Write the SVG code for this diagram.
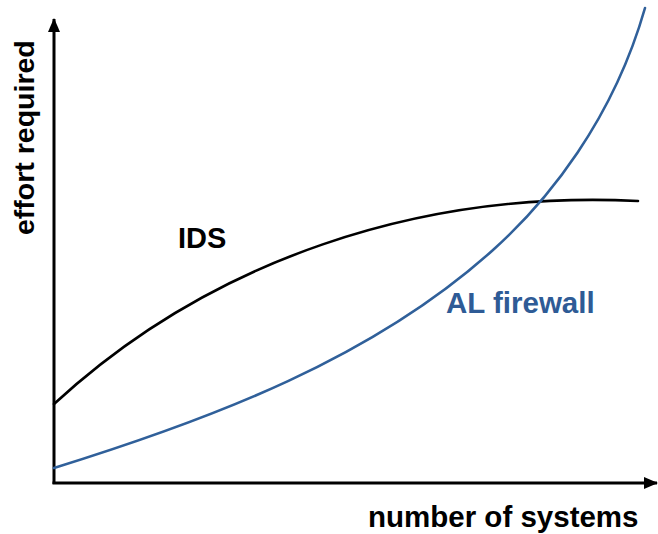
<svg xmlns="http://www.w3.org/2000/svg" width="658" height="534" viewBox="0 0 658 534">
  <defs>
    <style>
      .axis { stroke: #000; stroke-width: 3; fill: none; }
      .curve { fill: none; stroke-width: 2.6; stroke-linecap: round; }
      .lbl { font-family: "Liberation Sans", Arial, sans-serif; font-weight: bold; font-size: 29.5px; }
    </style>
    <marker id="arrow" viewBox="0 0 14 12" refX="13" refY="6" markerWidth="14" markerHeight="12" markerUnits="userSpaceOnUse" orient="auto">
      <path d="M0,0 L14,6 L0,12 Z" fill="#000"/>
    </marker>
  </defs>
  <rect width="658" height="534" fill="#fff"/>

  <!-- axes -->
  <g id="axes">
    <path class="axis" d="M54,484 L54,19" marker-end="url(#arrow)"/>
    <path class="axis" d="M52.5,483 L657,483" marker-end="url(#arrow)"/>
    <text class="lbl" style="font-size:28.5px" transform="translate(34,235) rotate(-90)">effort required</text>
    <text class="lbl" x="368" y="527">number of systems</text>
  </g>

  <!-- curves -->
  <g id="connectors">
    <path id="ids-curve" class="curve" stroke="#000" d="M54,404 C210,260 420,190 638,201"/>
    <path id="al-curve" class="curve" stroke="#30609a" d="M54,468 C214,418.4 373,358 493,250 C548,200.5 613,120 645,8"/>
  </g>

  <g id="ids-label">
    <text class="lbl" style="font-size:29px" x="178" y="248" fill="#000">IDS</text>
  </g>
  <g id="al-label">
    <text class="lbl" x="446" y="313" fill="#2e5b96">AL firewall</text>
  </g>
</svg>
